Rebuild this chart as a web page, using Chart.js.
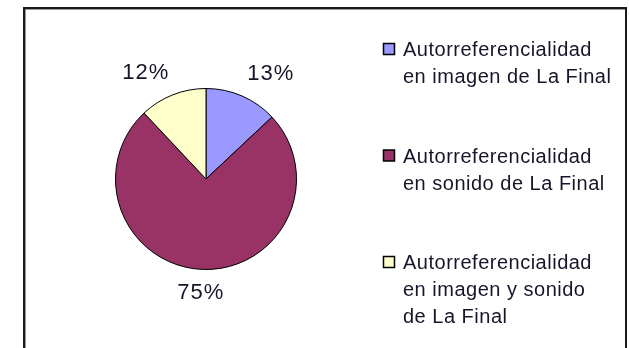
<!DOCTYPE html>
<html>
<head>
<meta charset="utf-8">
<script src="https://cdn.jsdelivr.net/npm/chart.js@4/dist/chart.umd.min.js"></script>
<style>
    html, body { margin: 0; padding: 0; background: #fff; overflow: hidden; }
    #wrap { position: relative; width: 629px; height: 348px; }
    #frame {
        position: absolute; left: 23px; top: 7px; width: 600px; height: 400px;
        border: 2px solid #1a1a1a; box-shadow: 1px 1px 0 #9a9a9a inset;
    }
    canvas { position: absolute; left: 0; top: 0; }
</style>
</head>
<body>
<div id="wrap">
    <div id="frame"></div>
    <canvas id="pie" width="629" height="348"></canvas>
</div>
<script>
const categories = [
    ['Autorreferencialidad', 'en imagen de La Final'],
    ['Autorreferencialidad', 'en sonido de La Final'],
    ['Autorreferencialidad', 'en imagen y sonido', 'de La Final']
];
const shares = [13, 75, 12];
const sliceColors = ['#9999ff', '#993366', '#ffffcc'];

const Theme = {
    text: '#16162a',
    font: '"Liberation Sans", Arial, sans-serif'
};

// percentage labels sit just outside each slice, pushed away from the rim
const sliceLabels = {
    id: 'sliceLabels',
    afterDatasetsDraw(chart) {
        const ctx = chart.ctx;
        const arcs = chart.getDatasetMeta(0).data;
        const values = chart.data.datasets[0].data;
        const total = values.reduce((a, b) => a + b, 0);
        ctx.save();
        ctx.font = '22px ' + Theme.font;
        ctx.letterSpacing = '1px';
        ctx.fillStyle = Theme.text;
        ctx.textAlign = 'center';
        ctx.textBaseline = 'middle';
        arcs.forEach((arc, i) => {
            const p = arc.getProps(['x', 'y', 'startAngle', 'endAngle', 'outerRadius'], true);
            const mid = (p.startAngle + p.endAngle) / 2;
            const cos = Math.cos(mid), sin = Math.sin(mid);
            const d = p.outerRadius + 14;
            const text = Math.round(values[i] / total * 100) + '%';
            const w = ctx.measureText(text).width;
            const h = 18;
            const clamp = v => Math.max(-1, Math.min(1, v));
            const x = p.x + cos * d + clamp(cos * 2.5) * w / 2;
            const y = p.y + sin * d + clamp(sin * 2.5) * h / 2;
            ctx.fillText(text, x, y);
        });
        ctx.restore();
    }
};

// legend on the right: small boxed swatch, wrapped category names
const sideLegend = {
    id: 'sideLegend',
    afterDraw(chart) {
        const ctx = chart.ctx;
        const ds = chart.data.datasets[0];
        ctx.save();
        ctx.font = '20px ' + Theme.font;
        ctx.letterSpacing = '0.5px';
        ctx.textBaseline = 'alphabetic';
        chart.data.labels.forEach((lines, i) => {
            const base = 56 + i * 106.5;
            ctx.fillStyle = ds.backgroundColor[i];
            ctx.fillRect(383.5, base - 12.5, 11, 11);
            ctx.strokeStyle = '#000';
            ctx.lineWidth = 1.5;
            ctx.strokeRect(383.5, base - 12.5, 11, 11);
            ctx.fillStyle = Theme.text;
            lines.forEach((line, j) => ctx.fillText(line, 403, base + j * 27));
        });
        ctx.restore();
    }
};

new Chart(document.getElementById('pie'), {
    type: 'pie',
    data: {
        labels: categories,
        datasets: [{
            data: shares,
            backgroundColor: sliceColors,
            borderColor: '#000',
            borderWidth: 1
        }]
    },
    options: {
        responsive: false,
        animation: false,
        layout: { padding: { left: 115, top: 88, right: 332, bottom: 78 } },
        plugins: {
            legend: { display: false },
            tooltip: { enabled: false }
        }
    },
    plugins: [sliceLabels, sideLegend]
});
</script>
</body>
</html>
